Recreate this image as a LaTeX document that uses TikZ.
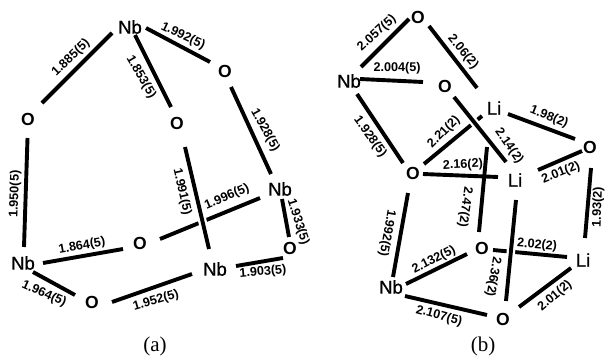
\documentclass[tikz,border=0pt]{standalone}
\usepackage{fontspec}
\setmainfont{Liberation Sans}
\newfontfamily\capfont{Liberation Serif}
\newfontfamily\atomfont[FakeBold=0.6]{Liberation Sans}
\begin{document}
\begin{tikzpicture}[x=1pt,y=-1pt,
  atom/.style={inner sep=0pt,font=\fontsize{18.5}{18}\atomfont},
  oxy/.style={inner sep=0pt,font=\fontsize{17.5}{17}\selectfont\bfseries},
  len/.style={inner sep=0pt,font=\fontsize{12.6}{13}\selectfont\bfseries},
  panel/.style={inner sep=0pt,font=\fontsize{21}{21}\capfont},
  bond/.style={line width=3.9pt,black},
  over/.style={bond,preaction={draw=white,line width=8.5pt}}]
\useasboundingbox (0,0) rectangle (605,356);
\fill[white] (0,0) rectangle (605,356);
% panel (a) atoms
\node[atom] (nbT) at (130,27) {Nb};
\node[oxy] (oL) at (28,119) {O};
\node[oxy] (oM) at (177,123) {O};
\node[oxy] (oR) at (225,71) {O};
\node[atom] (nbR) at (280,189) {Nb};
\node[oxy] (oLR) at (290,248) {O};
\node[atom] (nbB) at (215,269) {Nb};
\node[oxy] (oC) at (140,243) {O};
\node[atom] (nbL) at (23,263) {Nb};
\node[oxy] (oB) at (92,302) {O};
% panel (a) bonds
\draw[bond] ([shift={(14,-16)}]oL.center) -- ([shift={(-18,6)}]nbT.center);
\draw[bond] ([shift={(5,8)}]nbT.center) -- ([shift={(-6,-16)}]oM.center);
\draw[bond] ([shift={(16,1)}]nbT.center) -- ([shift={(-15,-9)}]oR.center);
\draw[bond] ([shift={(6,16)}]oR.center) -- ([shift={(-9,-15)}]nbR.center);
\draw[bond] ([shift={(-0.5,19)}]oL.center) -- ([shift={(1,-16)}]nbL.center);
\draw[bond] ([shift={(20,-4)}]oC.center) -- ([shift={(-20,9)}]nbR.center);
\draw[over] ([shift={(8,24)}]oM.center) -- ([shift={(-6,-20)}]nbB.center);
\draw[bond] ([shift={(20,0)}]nbL.center) -- ([shift={(-17,6)}]oC.center);
\draw[bond] ([shift={(10,9)}]nbL.center) -- ([shift={(-17,-7)}]oB.center);
\draw[bond] ([shift={(20,0)}]oB.center) -- ([shift={(-23,5)}]nbB.center);
\draw[bond] ([shift={(21,-3)}]nbB.center) -- ([shift={(-7,10)}]oLR.center);
\draw[bond] ([shift={(2,10)}]nbR.center) -- ([shift={(-1,-11)}]oLR.center);
% panel (a) lengths
\node[len,rotate=44] (a1) at (71,58) {1.885(5)};
\node[len,rotate=-60] (a2) at (141,77) {1.853(5)};
\node[len,rotate=-25] (a3) at (183,36) {1.992(5)};
\node[len,rotate=-61] (a4) at (265,130) {1.928(5)};
\node[len,rotate=88] (a5) at (15,194) {1.950(5)};
\node[len,rotate=-77] (a6) at (182,192) {1.991(5)};
\node[len,rotate=23] (a7) at (227,197) {1.996(5)};
\node[len,rotate=-72] (a8) at (298,222) {1.933(5)};
\node[len,rotate=10] (a9) at (82,246) {1.864(5)};
\node[len,rotate=-24] (a10) at (44,294) {1.964(5)};
\node[len,rotate=16] (a11) at (156,301) {1.952(5)};
\node[len,rotate=5] (a12) at (263,272) {1.903(5)};
\node[panel] (capA) at (155,346) {(a)};
% panel (b) atoms
\node[oxy] (oT) at (418,17) {O};
\node[atom] (nbU) at (349,81) {Nb};
\node[oxy] (oU) at (445,86) {O};
\node[atom] (liU) at (494,108) {Li};
\node[oxy] (oE) at (590,147) {O};
\node[oxy] (oW) at (413,173) {O};
\node[atom] (liM) at (515,180) {Li};
\node[atom] (liE) at (583,260) {Li};
\node[oxy] (oCt) at (482,248) {O};
\node[oxy] (oS) at (503,319) {O};
\node[atom] (nbD) at (391,287) {Nb};
% panel (b) bonds
\draw[bond] ([shift={(12,-14)}]nbU.center) -- ([shift={(-9,2)}]oT.center);
\draw[bond] ([shift={(11,9)}]oT.center) -- ([shift={(-17,-20)}]liU.center);
\draw[bond] ([shift={(11,-2)}]nbU.center) -- ([shift={(-22,-4)}]oU.center);
\draw[bond] ([shift={(8,13)}]nbU.center) -- ([shift={(-10,-10)}]oW.center);
\draw[bond] ([shift={(11,-9)}]oW.center) -- ([shift={(-12,8)}]liU.center);
\draw[over] ([shift={(9,11)}]oU.center) -- ([shift={(-9,-18)}]liM.center);
\draw[bond] ([shift={(14,6)}]liU.center) -- ([shift={(-15,-8)}]oE.center);
\draw[bond] ([shift={(23,-10)}]liM.center) -- ([shift={(-8,4)}]oE.center);
\draw[bond] ([shift={(1,21)}]oE.center) -- ([shift={(2,-22)}]liE.center);
\draw[bond] ([shift={(10,1)}]oW.center) -- ([shift={(-17,-3)}]liM.center);
\draw[bond] ([shift={(-7,39)}]liU.center) -- ([shift={(-3,-16)}]oCt.center);
\draw[bond] ([shift={(11,2)}]oCt.center) -- ([shift={(-16,-3)}]liE.center);
\draw[over] ([shift={(1,20)}]liM.center) -- ([shift={(3,-18)}]oS.center);
\draw[bond] ([shift={(-5,20)}]oW.center) -- ([shift={(2,-10)}]nbD.center);
\draw[bond] ([shift={(15,-3)}]nbD.center) -- ([shift={(-15,6)}]oCt.center);
\draw[bond] ([shift={(14,9)}]nbD.center) -- ([shift={(-16,-4)}]oS.center);
\draw[bond] ([shift={(16,-12)}]oS.center) -- ([shift={(-12,8)}]liE.center);
% panel (b) lengths
\node[len,rotate=42] (b1) at (377,33) {2.057(5)};
\node[len,rotate=-50] (b2) at (463,52) {2.06(2)};
\node[len] (b3) at (397,68) {2.004(5)};
\node[len,rotate=-54] (b4) at (370,137) {1.928(5)};
\node[len,rotate=45] (b5) at (444,132) {2.21(2)};
\node[len,rotate=-55] (b6) at (509,146) {2.14(2)};
\node[len,rotate=-22] (b7) at (549,117) {1.98(2)};
\node[len,rotate=3] (b8) at (463,165) {2.16(2)};
\node[len,rotate=22] (b9) at (561,173) {2.01(2)};
\node[len,rotate=88] (b10) at (598,207) {1.93(2)};
\node[len,rotate=-98] (b11) at (465,207) {2.47(2)};
\node[len,rotate=-100] (b12) at (387,233) {1.992(5)};
\node[len,rotate=27] (b13) at (434,260) {2.132(5)};
\node[len,rotate=-100] (b14) at (493,277) {2.36(2)};
\node[len,rotate=-5] (b15) at (537,245) {2.02(2)};
\node[len,rotate=-15] (b16) at (439,316) {2.107(5)};
\node[len,rotate=40] (b17) at (555,296) {2.01(2)};
\node[panel] (capB) at (483,346) {(b)};
\end{tikzpicture}
\end{document}
